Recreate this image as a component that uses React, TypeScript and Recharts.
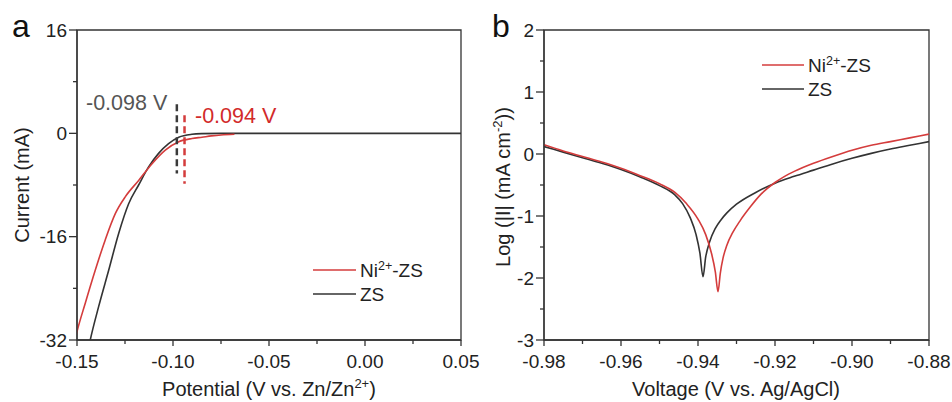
import { LineChart, Line, XAxis, YAxis, ReferenceLine, ReferenceArea } from "recharts"

// ---- panel a: LSV (current vs potential) ----
const lsvZsPotential = [-0.1445, -0.1431, -0.1387, -0.1335, -0.1283, -0.1231, -0.1179, -0.1127, -0.1075, -0.1023, -0.097, -0.0901, -0.0849, -0.075, -0.05, 0, 0.05]
const lsvZsCurrent = [-34, -32, -26.8, -21.2, -15.5, -10.9, -8.0, -5.2, -3.1, -1.6, -0.6, -0.15, -0.05, 0, 0, 0, 0]
const lsvNiPotential = [-0.151, -0.15, -0.1457, -0.1405, -0.1353, -0.13, -0.1248, -0.1179, -0.1109, -0.104, -0.097, -0.0901, -0.0849, -0.08, -0.075, -0.068]
const lsvNiCurrent = [-31.9, -30.7, -26.3, -21.2, -16.5, -12.4, -9.8, -7.3, -4.7, -2.6, -1.3, -0.8, -0.6, -0.4, -0.25, -0.15]
const lsvMajorX = [-0.15, -0.1, -0.05, 0, 0.05]
const lsvMinorX = [-0.125, -0.075, -0.025, 0.025]
const lsvMajorY = [16, 0, -16, -32]
const lsvMinorY = [8, -8, -24]
const zsOnset = { v: -0.098, top: 4.5, bottom: -6.2 }
const niOnset = { v: -0.094, top: 2.8, bottom: -7.8 }

// ---- panel b: Tafel (log|I| vs voltage) ----
const tafelZsVoltage = [-0.98, -0.975, -0.97, -0.965, -0.96, -0.955, -0.95, -0.946, -0.944, -0.942, -0.9405, -0.9395, -0.9387, -0.938, -0.937, -0.9355, -0.934, -0.9325, -0.93, -0.925, -0.92, -0.915, -0.91, -0.905, -0.9, -0.895, -0.89, -0.885, -0.88]
const tafelZsLog = [0.12, 0.03, -0.06, -0.15, -0.25, -0.37, -0.51, -0.66, -0.8, -1.03, -1.3, -1.6, -1.98, -1.66, -1.42, -1.2, -1.06, -0.95, -0.81, -0.62, -0.47, -0.36, -0.26, -0.16, -0.07, 0.01, 0.08, 0.14, 0.2]
const tafelNiVoltage = [-0.98, -0.975, -0.97, -0.965, -0.96, -0.955, -0.95, -0.946, -0.943, -0.94, -0.938, -0.9365, -0.9355, -0.9348, -0.9342, -0.9335, -0.9325, -0.931, -0.929, -0.9265, -0.9235, -0.92, -0.9175, -0.915, -0.91, -0.905, -0.9, -0.895, -0.89, -0.885, -0.88]
const tafelNiLog = [0.15, 0.05, -0.04, -0.13, -0.23, -0.35, -0.48, -0.62, -0.8, -1.05, -1.3, -1.6, -1.9, -2.22, -1.92, -1.68, -1.47, -1.27, -1.07, -0.86, -0.64, -0.46, -0.36, -0.28, -0.15, -0.04, 0.06, 0.14, 0.2, 0.26, 0.32]
const tafelMajorX = [-0.98, -0.96, -0.94, -0.92, -0.9, -0.88]
const tafelMinorX = [-0.97, -0.95, -0.93, -0.91, -0.89]
const tafelMajorY = [2, 1, 0, -1, -2, -3]
const tafelMinorY = [1.5, 0.5, -0.5, -1.5, -2.5]

const RED = "#d43c3c"
const DARK = "#333"
const AXIS = "#333"
const FONT = "'Liberation Sans', Arial, sans-serif"

const zip = (xs: number[], ys: number[]) => xs.map((x, i) => ({ x, y: ys[i] }))

const isMajor = (list: number[], v: number) => list.some((m) => Math.abs(m - v) < 1e-9)

function XTick(props: any) {
  const { x, y, payload, majors } = props
  const major = isMajor(majors, payload.value)
  return (
    <g>
      <line x1={x} x2={x} y1={y} y2={y + (major ? 6 : 4)} stroke={AXIS} strokeWidth={1.3} />
      {major && (
        <text x={x} y={y + 15} dy="0.71em" textAnchor="middle" fontSize={19} fill="#222" fontFamily={FONT}>
          {payload.value.toFixed(2)}
        </text>
      )}
    </g>
  )
}

function YTick(props: any) {
  const { x, y, payload, majors } = props
  const major = isMajor(majors, payload.value)
  return (
    <g>
      <line x1={x} x2={x - (major ? 8 : 4)} y1={y} y2={y} stroke={AXIS} strokeWidth={1.3} />
      {major && (
        <text x={x - 10} y={y} dy="0.355em" textAnchor="end" fontSize={19} fill="#222" fontFamily={FONT}>
          {payload.value}
        </text>
      )}
    </g>
  )
}

function LsvChart() {
  return (
    <LineChart width={500} height={402} margin={{ top: 30, right: 39, bottom: 32, left: 17 }} style={{ position: "absolute", left: 0, top: 0 }}>
      <XAxis
        type="number"
        dataKey="x"
        domain={[-0.15, 0.05]}
        ticks={[...lsvMajorX, ...lsvMinorX].sort((a, b) => a - b)}
        interval={0}
        allowDataOverflow
        height={30}
        tickSize={0}
        tickMargin={0}
        tickLine={false}
        axisLine={{ stroke: AXIS, strokeWidth: 1.3 }}
        tick={(p: any) => <XTick {...p} majors={lsvMajorX} />}
      />
      <YAxis
        type="number"
        dataKey="y"
        domain={[-32, 16]}
        ticks={[...lsvMajorY, ...lsvMinorY].sort((a, b) => a - b)}
        interval={0}
        allowDataOverflow
        width={60}
        tickSize={0}
        tickMargin={0}
        tickLine={false}
        axisLine={{ stroke: AXIS, strokeWidth: 1.3 }}
        tick={(p: any) => <YTick {...p} majors={lsvMajorY} />}
      />
      <ReferenceArea x1={-0.15} x2={0.05} y1={-32} y2={16} fill="none" stroke={AXIS} strokeWidth={1.3} ifOverflow="visible" />
      <Line data={zip(lsvZsPotential, lsvZsCurrent)} dataKey="y" type="monotone" stroke={DARK} strokeWidth={1.6} dot={false} isAnimationActive={false} />
      <Line data={zip(lsvNiPotential, lsvNiCurrent)} dataKey="y" type="monotone" stroke={RED} strokeWidth={1.6} dot={false} isAnimationActive={false} />
      <ReferenceLine
        segment={[{ x: zsOnset.v, y: zsOnset.top }, { x: zsOnset.v, y: zsOnset.bottom }]}
        stroke="#3a3a3a"
        strokeWidth={2.5}
        strokeDasharray="7 4"
      />
      <ReferenceLine
        segment={[{ x: niOnset.v, y: niOnset.top }, { x: niOnset.v, y: niOnset.bottom }]}
        stroke={RED}
        strokeWidth={2.5}
        strokeDasharray="7 4"
      />
    </LineChart>
  )
}

function TafelChart() {
  return (
    <LineChart width={476} height={402} margin={{ top: 30, right: 23, bottom: 32, left: 8 }} style={{ position: "absolute", left: 476, top: 0 }}>
      <XAxis
        type="number"
        dataKey="x"
        domain={[-0.98, -0.88]}
        ticks={[...tafelMajorX, ...tafelMinorX].sort((a, b) => a - b)}
        interval={0}
        allowDataOverflow
        height={30}
        tickSize={0}
        tickMargin={0}
        tickLine={false}
        axisLine={{ stroke: AXIS, strokeWidth: 1.3 }}
        tick={(p: any) => <XTick {...p} majors={tafelMajorX} />}
      />
      <YAxis
        type="number"
        dataKey="y"
        domain={[-3, 2]}
        ticks={[...tafelMajorY, ...tafelMinorY].sort((a, b) => a - b)}
        interval={0}
        allowDataOverflow
        width={60}
        tickSize={0}
        tickMargin={0}
        tickLine={false}
        axisLine={{ stroke: AXIS, strokeWidth: 1.3 }}
        tick={(p: any) => <YTick {...p} majors={tafelMajorY} />}
      />
      <ReferenceArea x1={-0.98} x2={-0.88} y1={-3} y2={2} fill="none" stroke={AXIS} strokeWidth={1.3} ifOverflow="visible" />
      <Line data={zip(tafelZsVoltage, tafelZsLog)} dataKey="y" type="monotone" stroke={DARK} strokeWidth={1.6} dot={false} isAnimationActive={false} />
      <Line data={zip(tafelNiVoltage, tafelNiLog)} dataKey="y" type="monotone" stroke={RED} strokeWidth={1.6} dot={false} isAnimationActive={false} />
    </LineChart>
  )
}

function Overlay() {
  return (
    <svg width={952} height={402} style={{ position: "absolute", left: 0, top: 0, pointerEvents: "none" }} fontFamily={FONT}>
      {/* panel letters */}
      <text x={12} y={37} fontSize={32} fill="#111">a</text>
      <text x={492} y={37} fontSize={32} fill="#111">b</text>

      {/* panel a titles */}
      <text transform="translate(29,185) rotate(-90)" textAnchor="middle" fontSize={20} fill="#222">Current (mA)</text>
      <text x={269} y={396} textAnchor="middle" fontSize={20} fill="#222">
        Potential (V vs. Zn/Zn<tspan fontSize={13} dy={-8}>2+</tspan><tspan dy={8}>)</tspan>
      </text>

      {/* onset annotations */}
      <text x={86} y={110} fontSize={21.5} fill="#555">-0.098 V</text>
      <text x={195} y={123} fontSize={21.5} fill="#d22a2a">-0.094 V</text>

      {/* panel a legend */}
      <line x1={313} x2={356} y1={270} y2={270} stroke={RED} strokeWidth={1.6} />
      <line x1={313} x2={356} y1={294} y2={294} stroke={DARK} strokeWidth={1.6} />
      <text x={360} y={277} fontSize={19} fill="#222">
        Ni<tspan fontSize={12.5} dy={-7}>2+</tspan><tspan dy={7}>-ZS</tspan>
      </text>
      <text x={360} y={301} fontSize={19} fill="#222">ZS</text>

      {/* panel b titles */}
      <text transform="translate(510,187) rotate(-90)" textAnchor="middle" fontSize={20} fill="#222">
        Log (|I| (mA cm<tspan fontSize={13} dy={-8}>-2</tspan><tspan dy={8}>))</tspan>
      </text>
      <text x={736} y={396} textAnchor="middle" fontSize={20} fill="#222">Voltage (V vs. Ag/AgCl)</text>

      {/* panel b legend */}
      <line x1={762} x2={804} y1={65} y2={65} stroke={RED} strokeWidth={1.6} />
      <line x1={762} x2={804} y1={89} y2={89} stroke={DARK} strokeWidth={1.6} />
      <text x={808} y={72} fontSize={19} fill="#222">
        Ni<tspan fontSize={12.5} dy={-7}>2+</tspan><tspan dy={7}>-ZS</tspan>
      </text>
      <text x={808} y={96} fontSize={19} fill="#222">ZS</text>
    </svg>
  )
}

export default function App() {
  return (
    <div style={{ position: "absolute", left: 0, top: 0, width: 952, height: 402, background: "#fff", fontFamily: FONT }}>
      <LsvChart />
      <TafelChart />
      <Overlay />
    </div>
  )
}
